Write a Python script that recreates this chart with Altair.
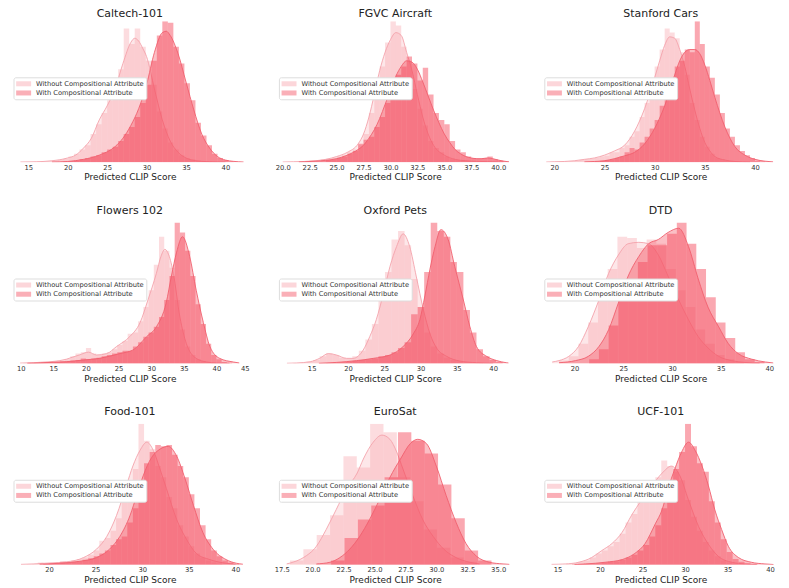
import altair as alt
import pandas as pd

FONT = "DejaVu Sans"
WO = "Without Compositional Attribute"
WI = "With Compositional Attribute"
WO_COLOR = "#f8a5ad"
WI_COLOR = "#f54e5f"
X_TITLE = "Predicted CLIP Score"

# ---------------- Caltech-101 ----------------
caltech_xlim = [12.68, 43.08]
caltech_ticks = [15, 20, 25, 30, 35, 40]
caltech_wo_bins = [16.6, 0.7]
caltech_wo_hist = [0.3, 0.5, 1, 1.5, 2.5, 4, 6, 9, 12, 20, 27, 35, 44, 50, 66, 95, 84, 95, 82, 72,
                   55, 36, 24, 14, 9, 5, 3, 2, 1, 0.6, 0.4, 0.2]
caltech_wi_bins = [19.4, 0.7]
caltech_wi_hist = [0.3, 0.6, 1, 2, 3, 4, 5, 7, 9, 11, 15, 20, 25, 32, 42, 55, 72, 90, 100, 99,
                   82, 70, 56, 44, 28, 19, 12, 6, 3, 1.5, 0.5]
caltech_wo_kde_x = [14.0, 16, 18, 20, 21, 22, 23, 24, 25, 26, 27, 28, 28.5, 29, 29.5, 30, 31, 32, 33, 34, 35, 36, 38, 40]
caltech_wo_kde_y = [0.1, 0.3, 1, 3, 5, 10, 17, 30, 40, 52, 70, 85, 88, 86, 81, 75, 52, 30, 15, 7, 3, 1.2, 0.3, 0.1]
caltech_wi_kde_x = [18, 20, 22, 24, 26, 27, 28, 29, 30, 31, 32, 32.5, 33, 34, 35, 36, 37, 38, 39, 40, 41, 42.3]
caltech_wi_kde_y = [0.1, 0.5, 2, 5, 11, 17, 26, 38, 55, 78, 92, 93, 90, 77, 57, 37, 20, 10, 4, 1.5, 0.6, 0.1]

# ---------------- FGVC Aircraft ----------------
fgvc_xlim = [19.32, 41.57]
fgvc_ticks = [20.0, 22.5, 25.0, 27.5, 30.0, 32.5, 35.0, 37.5, 40.0]
fgvc_wo_bins = [21.0, 0.5]
fgvc_wo_hist = [0, 0.3, 0.5, 1.2, 1, 2, 2.5, 3, 4, 5, 7, 9, 12, 20, 35, 52, 68, 85, 100, 97,
                82, 72, 52, 38, 26, 15, 10, 7, 4, 2.5, 1.5, 1, 0.8, 0.5, 0.3, 0.2]
fgvc_wi_bins = [21.0, 0.5]
fgvc_wi_hist = [0, 0, 0.2, 0.3, 0.3, 0.5, 1.5, 2, 3, 4, 6, 8, 13, 16, 18, 25, 32, 42, 50, 62,
                68, 75, 70, 58, 67, 48, 35, 30, 27, 15, 9, 7, 4, 3, 2.5, 3, 4, 2, 1, 0.5]
fgvc_wo_kde_x = [20.0, 21, 22, 23, 24, 25, 26, 27, 27.5, 28, 28.5, 29, 29.5, 30, 30.5, 31, 31.5, 32, 32.5, 33,
                 33.5, 34, 35, 36, 37, 38, 39, 40, 40.5]
fgvc_wo_kde_y = [0.1, 0.3, 0.5, 1, 2, 4, 7, 13, 20, 32, 48, 65, 78, 87, 92, 90, 78, 65, 48, 32,
                 20, 12, 5, 2, 1, 0.6, 0.4, 0.2, 0.1]
fgvc_wi_kde_x = [21.5, 22, 23, 24, 25, 26, 27, 27.5, 28, 28.5, 29, 29.5, 30, 30.5, 31, 31.5, 32, 32.5, 33, 33.5,
                 34, 34.5, 35, 35.5, 36, 36.5, 37, 37.5, 38, 38.5, 39, 39.5, 40, 41.0]
fgvc_wi_kde_y = [0.1, 0.3, 0.7, 1.3, 2.5, 5, 9, 12, 17, 23, 31, 41, 51, 61, 68, 72, 71, 66, 57, 47,
                 37, 28, 20, 14, 9, 6, 4, 3, 2.5, 2.5, 3, 2.5, 1.5, 0.2]

# ---------------- Stanford Cars ----------------
cars_xlim = [18.66, 42.54]
cars_ticks = [20, 25, 30, 35, 40]
cars_wo_bins = [20.5, 0.5]
cars_wo_hist = [0.3, 0.5, 0.7, 1, 1.5, 2, 2.5, 3, 4, 4.5, 7, 7, 10, 12, 18, 22, 32, 42, 55, 68,
                80, 95, 92, 88, 78, 62, 42, 30, 18, 11, 6, 3, 2, 1, 0.6, 0.3]
cars_wi_bins = [24.0, 0.5]
cars_wi_hist = [0.5, 1, 1.5, 2, 3, 4, 7, 10, 9, 14, 18, 24, 30, 40, 48, 55, 68, 72, 80, 78,
                100, 84, 68, 60, 48, 35, 24, 18, 12, 8, 5, 3, 1, 0.5]
cars_wo_kde_x = [19.2, 20, 21, 22, 23, 24, 25, 26, 27, 28, 29, 30, 30.5, 31, 31.5, 32, 32.5, 33, 33.5, 34,
                 34.5, 35, 35.5, 36, 37, 38, 39.5]
cars_wo_kde_y = [0.1, 0.3, 0.5, 1, 2, 3, 5, 8, 12, 22, 38, 60, 72, 83, 89, 88, 80, 68, 52, 37,
                 24, 14, 8, 4, 1.5, 0.5, 0.1]
cars_wi_kde_x = [23, 24, 25, 26, 27, 28, 29, 30, 31, 32, 32.5, 33, 33.5, 34, 34.5, 35, 35.5, 36, 37, 38,
                 39, 40, 41, 41.8]
cars_wi_kde_y = [0.2, 0.5, 1, 2.5, 4.5, 7, 13, 24, 40, 62, 72, 78, 80, 80, 77, 69, 58, 46, 25, 11,
                 5, 2, 0.7, 0.2]

# ---------------- Flowers 102 ----------------
flowers_xlim = [8.36, 45.1]
flowers_ticks = [10, 15, 20, 25, 30, 35, 40, 45]
flowers_wo_bins = [10.4, 0.8]
flowers_wo_hist = [0.3, 0.5, 0.6, 0.8, 1, 1.3, 1.5, 2, 3, 5, 7, 8, 11, 7, 6, 7, 8, 10, 13, 16,
                   21, 22, 30, 40, 52, 70, 90, 80, 68, 45, 24, 12, 6, 3, 1.5, 0.8, 0.4, 0.2, 0, 0]
flowers_wi_bins = [10.4, 0.8]
flowers_wi_hist = [0, 0.2, 0.3, 0.4, 0.6, 0.8, 1, 1.3, 1.5, 2, 2.5, 3.5, 3, 3.5, 4, 5, 6, 7, 8, 9,
                   9, 12, 15, 19, 22, 26, 33, 45, 62, 100, 93, 80, 62, 42, 28, 14, 6, 3, 1, 0.5]
flowers_wo_kde_x = [9.9, 11, 12, 13, 14.5, 16, 17, 18, 19, 20.4, 21.6, 23.2, 24.7, 26.7, 28.3, 29.5, 30.8, 31.5,
                    32.1, 32.7, 33.4, 34.4, 35.4, 36.9, 38.5, 40, 42]
flowers_wo_kde_y = [0.2, 0.4, 0.5, 0.8, 1.2, 2, 3, 4.5, 6, 8, 6, 7, 12, 19, 29, 45, 64, 76,
                    81, 77, 64, 33, 14, 3.6, 1, 0.3, 0.1]
flowers_wi_kde_x = [11, 13, 15, 17, 19.6, 22.1, 25.2, 27.2, 29.3, 30.8, 32.3, 33.1, 33.9, 34.8, 35.9, 36.9, 38,
                    39, 40.5, 42.6, 43.5]
flowers_wi_kde_y = [0.1, 0.4, 0.8, 1.2, 2.4, 3.6, 7, 9.5, 19, 26, 43, 62, 79, 90, 76, 52, 29,
                    12, 3.6, 1, 0.3]

# ---------------- Oxford Pets ----------------
pets_xlim = [10.01, 43.02]
pets_ticks = [15, 20, 25, 30, 35, 40]
pets_wo_bins = [12.5, 0.9]
pets_wo_hist = [0.3, 0.5, 1.2, 2.5, 5, 7, 6, 4, 3.5, 5, 9, 17, 28, 45, 65, 88, 94, 84, 60, 40,
                22, 12, 7, 4, 2.5, 1.5, 0.8, 0.5, 0.3, 0.2]
pets_wi_bins = [12.5, 0.9]
pets_wi_hist = [0, 0, 0, 0, 0.2, 0.3, 0.6, 0.8, 1.2, 1.8, 2.5, 3, 3.5, 5, 6, 8, 11, 15, 35, 40,
                65, 100, 94, 90, 72, 65, 38, 22, 10, 5, 2.5, 1]
pets_wo_kde_x = [11.6, 12.9, 14.8, 16.1, 17.3, 18.4, 19.8, 20.7, 22.1, 23, 23.9, 24.9, 25.8, 26.7, 27.6, 28.5,
                 29.4, 30.4, 31.3, 32.2, 33.6, 35.4, 37.7, 40]
pets_wo_kde_y = [0.1, 0.3, 1.2, 3.6, 7, 6, 3.6, 3.6, 9.5, 19, 31, 50, 69, 83, 92, 83,
                 62, 38, 21, 11, 5, 1.7, 0.5, 0.1]
pets_wi_kde_x = [16, 18.4, 21.2, 23.5, 25.8, 27.6, 29, 29.9, 30.6, 31.3, 32, 32.8, 33.8, 34.7, 35.9, 36.8,
                 37.7, 39.1, 40.5, 41.8, 42.1]
pets_wi_kde_y = [0.1, 0.7, 2, 3.6, 6, 12, 21, 31, 48, 67, 83, 95, 88, 69, 45, 26,
                 12, 5, 2, 0.5, 0.3]

# ---------------- DTD ----------------
dtd_xlim = [16.53, 41.15]
dtd_ticks = [20, 25, 30, 35, 40]
dtd_wo_bins = [18.4, 1.0]
dtd_wo_hist = [2, 5, 14, 29, 48, 67, 90, 89, 82, 88, 85, 67, 52, 40, 24, 14, 6, 3, 1]
dtd_wi_bins = [21.5, 1.0]
dtd_wi_hist = [3, 10, 27, 45, 60, 72, 84, 84, 92, 100, 85, 67, 47, 29, 18, 8, 3, 1]
dtd_wo_kde_x = [17.7, 18.4, 19.4, 20.4, 21.4, 22.5, 23.5, 24.5, 25.5, 26.6, 27.6, 28.6, 29.6, 30.7, 31.7, 32.7,
                33.7, 34.8, 36.1, 37.5, 39]
dtd_wo_kde_y = [1, 2, 5, 12, 26, 45, 64, 77, 85, 86, 85, 77, 62, 45, 31, 19,
                11, 5, 2, 0.7, 0.1]
dtd_wi_kde_x = [18.4, 20.1, 21.4, 22.5, 23.5, 24.5, 25.5, 26.6, 27.6, 28.6, 29.6, 30.7, 31.7, 32.7, 33.7, 34.8,
                35.8, 36.8, 38.2, 39.6, 40.4]
dtd_wi_kde_y = [0.5, 2, 5, 12, 24, 43, 62, 76, 85, 88, 93, 96, 83, 60, 40, 26,
                14, 7, 3, 1, 0.3]

# ---------------- Food-101 ----------------
food_xlim = [15.82, 41.53]
food_ticks = [20, 25, 30, 35, 40]
food_wo_bins = [17.6, 0.6]
food_wo_hist = [0.3, 0.5, 1.5, 1, 1.2, 1.5, 2.5, 2, 3, 4, 5, 7, 10, 17, 19, 24, 33, 45, 60, 68,
                100, 88, 82, 70, 62, 48, 40, 28, 20, 13, 8, 5, 3, 1.5, 0.8]
food_wi_bins = [19.4, 0.6]
food_wi_hist = [0.5, 0.8, 1, 1.5, 1.5, 2, 2.5, 3.5, 4.5, 6, 8, 10, 14, 18, 20, 30, 40, 55, 72, 80,
                85, 84, 85, 78, 70, 62, 50, 40, 28, 18, 10, 6, 3, 1.5, 0.5]
food_wo_kde_x = [17, 18.3, 20.1, 21.9, 23.7, 25.1, 26.2, 27.25, 28.3, 29, 29.75, 30.5, 31.2, 31.9, 32.6, 33.7,
                 34.75, 35.8, 37.25, 39, 40]
food_wo_kde_y = [0.2, 0.5, 1.2, 2, 5, 11, 20, 35, 56, 70, 81, 87, 81, 68, 54, 32,
                 18, 8, 3.6, 1, 0.3]
food_wi_kde_x = [19, 21.2, 23.3, 25.1, 26.5, 27.6, 28.7, 29.4, 30.1, 31, 31.9, 32.8, 33.7, 34.6, 35.5, 36.5,
                 37.6, 39, 40.1, 40.8]
food_wi_kde_y = [0.3, 1, 2.4, 5, 11, 20, 35, 49, 63, 76, 82, 84, 77, 61, 42, 23,
                 11, 3.6, 1, 0.3]

# ---------------- EuroSat ----------------
euro_xlim = [16.99, 36.37]
euro_ticks = [17.5, 20.0, 22.5, 25.0, 27.5, 30.0, 32.5, 35.0]
euro_wo_bins = [18.17, 1.08]
euro_wo_hist = [3, 11, 21, 35, 77, 69, 100, 94, 62, 45, 25, 12, 5, 2]
euro_wi_bins = [21.5, 1.08]
euro_wi_hist = [3, 19, 32, 42, 62, 94, 88, 79, 57, 33, 10, 3]
euro_wo_kde_x = [17.9, 18.2, 19.25, 20.3, 21.1, 21.9, 22.75, 23.6, 24.1, 24.9, 25.6, 26.25, 26.8, 27.3, 28.1,
                 28.9, 29.75, 30.6, 31.6, 32.7, 33.5]
euro_wo_kde_y = [0.5, 1.2, 5, 13, 25, 39, 54, 65, 75, 87, 92, 89, 80, 68, 49,
                 32, 20, 11, 5, 1.7, 0.5]
euro_wi_kde_x = [20.3, 21.4, 22.2, 23, 23.8, 24.6, 25.4, 26.25, 27.1, 27.9, 28.5, 29.2, 30, 30.8, 31.6, 32.4,
                 33.25, 34.3, 35.4, 35.9]
euro_wi_kde_y = [0.5, 1.7, 5, 11, 20, 32, 46, 62, 75, 86, 89, 86, 70, 49, 30, 15,
                 6, 1.7, 0.5, 0.2]

# ---------------- UCF-101 ----------------
ucf_xlim = [13.03, 41.23]
ucf_ticks = [15, 20, 25, 30, 35, 40]
ucf_wo_bins = [16.0, 0.7]
ucf_wo_hist = [0.5, 1, 2, 3, 5, 8, 10, 13, 16, 22, 30, 36, 45, 60, 55, 62, 74, 70, 66, 60,
               46, 34, 24, 16, 10, 6, 3, 1.5, 0.8, 0.3]
ucf_wi_bins = [16.0, 0.7]
ucf_wi_hist = [0, 0.3, 0.5, 0.6, 0.8, 1, 1.5, 2, 2.5, 3.5, 5, 7, 10, 14, 20, 28, 40, 55, 68, 80,
               100, 84, 72, 66, 45, 30, 18, 9, 4, 2, 1, 0.5]
ucf_wo_kde_x = [14.3, 15.9, 17.5, 19, 20.2, 21.4, 22.6, 23.7, 24.9, 26.1, 27.3, 28.4, 29.4, 30.4, 31.6, 32.8,
                33.9, 35.5, 37.1, 38.5]
ucf_wo_kde_y = [0.2, 0.5, 1.7, 5, 10, 15, 23, 35, 46, 56, 65, 70, 63, 46, 27, 14,
                6, 1.7, 0.5, 0.1]
ucf_wi_kde_x = [17, 18.3, 20.6, 22.6, 24.1, 25.3, 26.5, 27.3, 28, 28.8, 29.6, 30.4, 31.2, 32, 32.75, 33.5,
                34.3, 35.1, 36.3, 37.8, 39.4, 40.4]
ucf_wi_kde_y = [0.1, 0.5, 1.7, 3.6, 8, 15, 29, 39, 54, 68, 80, 87, 81, 70, 56, 39,
                25, 13, 5, 1.7, 0.5, 0.1]

PANELS = [
    ("Caltech-101", caltech_xlim, caltech_ticks, "d", caltech_wo_bins, caltech_wo_hist, caltech_wi_bins,
     caltech_wi_hist, caltech_wo_kde_x, caltech_wo_kde_y, caltech_wi_kde_x, caltech_wi_kde_y),
    ("FGVC Aircraft", fgvc_xlim, fgvc_ticks, ".1f", fgvc_wo_bins, fgvc_wo_hist, fgvc_wi_bins,
     fgvc_wi_hist, fgvc_wo_kde_x, fgvc_wo_kde_y, fgvc_wi_kde_x, fgvc_wi_kde_y),
    ("Stanford Cars", cars_xlim, cars_ticks, "d", cars_wo_bins, cars_wo_hist, cars_wi_bins,
     cars_wi_hist, cars_wo_kde_x, cars_wo_kde_y, cars_wi_kde_x, cars_wi_kde_y),
    ("Flowers 102", flowers_xlim, flowers_ticks, "d", flowers_wo_bins, flowers_wo_hist, flowers_wi_bins,
     flowers_wi_hist, flowers_wo_kde_x, flowers_wo_kde_y, flowers_wi_kde_x, flowers_wi_kde_y),
    ("Oxford Pets", pets_xlim, pets_ticks, "d", pets_wo_bins, pets_wo_hist, pets_wi_bins,
     pets_wi_hist, pets_wo_kde_x, pets_wo_kde_y, pets_wi_kde_x, pets_wi_kde_y),
    ("DTD", dtd_xlim, dtd_ticks, "d", dtd_wo_bins, dtd_wo_hist, dtd_wi_bins,
     dtd_wi_hist, dtd_wo_kde_x, dtd_wo_kde_y, dtd_wi_kde_x, dtd_wi_kde_y),
    ("Food-101", food_xlim, food_ticks, "d", food_wo_bins, food_wo_hist, food_wi_bins,
     food_wi_hist, food_wo_kde_x, food_wo_kde_y, food_wi_kde_x, food_wi_kde_y),
    ("EuroSat", euro_xlim, euro_ticks, ".1f", euro_wo_bins, euro_wo_hist, euro_wi_bins,
     euro_wi_hist, euro_wo_kde_x, euro_wo_kde_y, euro_wi_kde_x, euro_wi_kde_y),
    ("UCF-101", ucf_xlim, ucf_ticks, "d", ucf_wo_bins, ucf_wo_hist, ucf_wi_bins,
     ucf_wi_hist, ucf_wo_kde_x, ucf_wo_kde_y, ucf_wi_kde_x, ucf_wi_kde_y),
]


def hist_df(bins, heights, series):
    start, width = bins
    return pd.DataFrame({
        "x0": [start + i * width for i in range(len(heights))],
        "x1": [start + (i + 1) * width for i in range(len(heights))],
        "h": heights,
        "series": series,
    })


def kde_df(xs, ys):
    return pd.DataFrame({"x": xs, "y": ys})


def panel(idx, spec):
    (title, xlim, ticks, fmt, wo_bins, wo_hist, wi_bins, wi_hist,
     wo_kx, wo_ky, wi_kx, wi_ky) = spec
    row = idx // 3
    xs = alt.Scale(domain=xlim, nice=False, zero=False)
    ys = alt.Scale(domain=[0, 100], nice=False)
    cs = alt.Scale(domain=[WO, WI], range=[WO_COLOR, WI_COLOR])
    xaxis = alt.Axis(values=ticks, format=fmt, domain=False, ticks=False, tickSize=0, grid=False,
                     labelFontSize=6.8, labelFont=FONT, labelColor="#333333", labelPadding=2,
                     titleFontSize=9, titleFont=FONT, titleFontWeight="normal", titleColor="#222222",
                     titlePadding=2)
    legend = alt.Legend(orient="none", legendX=3.5, legendY=56, title=None,
                        symbolType="M-2,-0.67L2,-0.67L2,0.67L-2,0.67Z", symbolSize=56,
                        symbolOffset=3.65, symbolOpacity=0.45, symbolStrokeWidth=0,
                        labelFontSize=6.7, labelFont=FONT, labelColor="#333333", labelOffset=8.4,
                        labelLimit=300, fillColor="white", strokeColor="#dddddd", padding=2.5,
                        cornerRadius=2, rowPadding=1.2)

    def X(field):
        return alt.X(field, type="quantitative", scale=xs, axis=xaxis, title=X_TITLE)

    def Y(field):
        return alt.Y(field, type="quantitative", scale=ys, axis=None)

    color = alt.Color("series:N", scale=cs, legend=legend)

    wo_bar = alt.Chart(hist_df(wo_bins, wo_hist, WO)).mark_rect(
        opacity=0.39, strokeWidth=0, clip=True).encode(
        x=X("x0"), x2="x1", y=Y("h"), y2=alt.datum(0), color=color)
    wi_bar = alt.Chart(hist_df(wi_bins, wi_hist, WI)).mark_rect(
        opacity=0.49, strokeWidth=0, clip=True).encode(
        x=X("x0"), x2="x1", y=Y("h"), y2=alt.datum(0), color=color)
    wo_area = alt.Chart(kde_df(wo_kx, wo_ky)).mark_area(
        interpolate="monotone", color=WO_COLOR, opacity=0.27, clip=True).encode(x=X("x"), y=Y("y"))
    wi_area = alt.Chart(kde_df(wi_kx, wi_ky)).mark_area(
        interpolate="monotone", color=WI_COLOR, opacity=0.36, clip=True).encode(x=X("x"), y=Y("y"))
    wo_line = alt.Chart(kde_df(wo_kx, wo_ky)).mark_line(
        interpolate="monotone", color="#f4a3ab", strokeWidth=0.9, clip=True).encode(x=X("x"), y=Y("y"))
    wi_line = alt.Chart(kde_df(wi_kx, wi_ky)).mark_line(
        interpolate="monotone", color="#f0606e", strokeWidth=0.9, clip=True).encode(x=X("x"), y=Y("y"))

    return alt.layer(wo_bar, wo_area, wo_line, wi_bar, wi_area, wi_line).properties(
        width=240, height=141,
        title=alt.TitleParams(text=title, fontSize=11, font=FONT, fontWeight="normal",
                              color="#222222", anchor="middle", offset=2 if row == 0 else 7),
    )


charts = [panel(i, p) for i, p in enumerate(PANELS)]

chart = alt.concat(*charts, columns=3, spacing={"row": 60.5, "column": 25.75}, bounds="flush").resolve_scale(
    x="independent", y="independent", color="independent"
).resolve_legend(color="independent").properties(
    padding={"left": 2, "top": 0, "right": 0, "bottom": 0}
).configure_view(stroke=None)

chart.save("out.html", embed_options={"renderer": "svg", "actions": False})
